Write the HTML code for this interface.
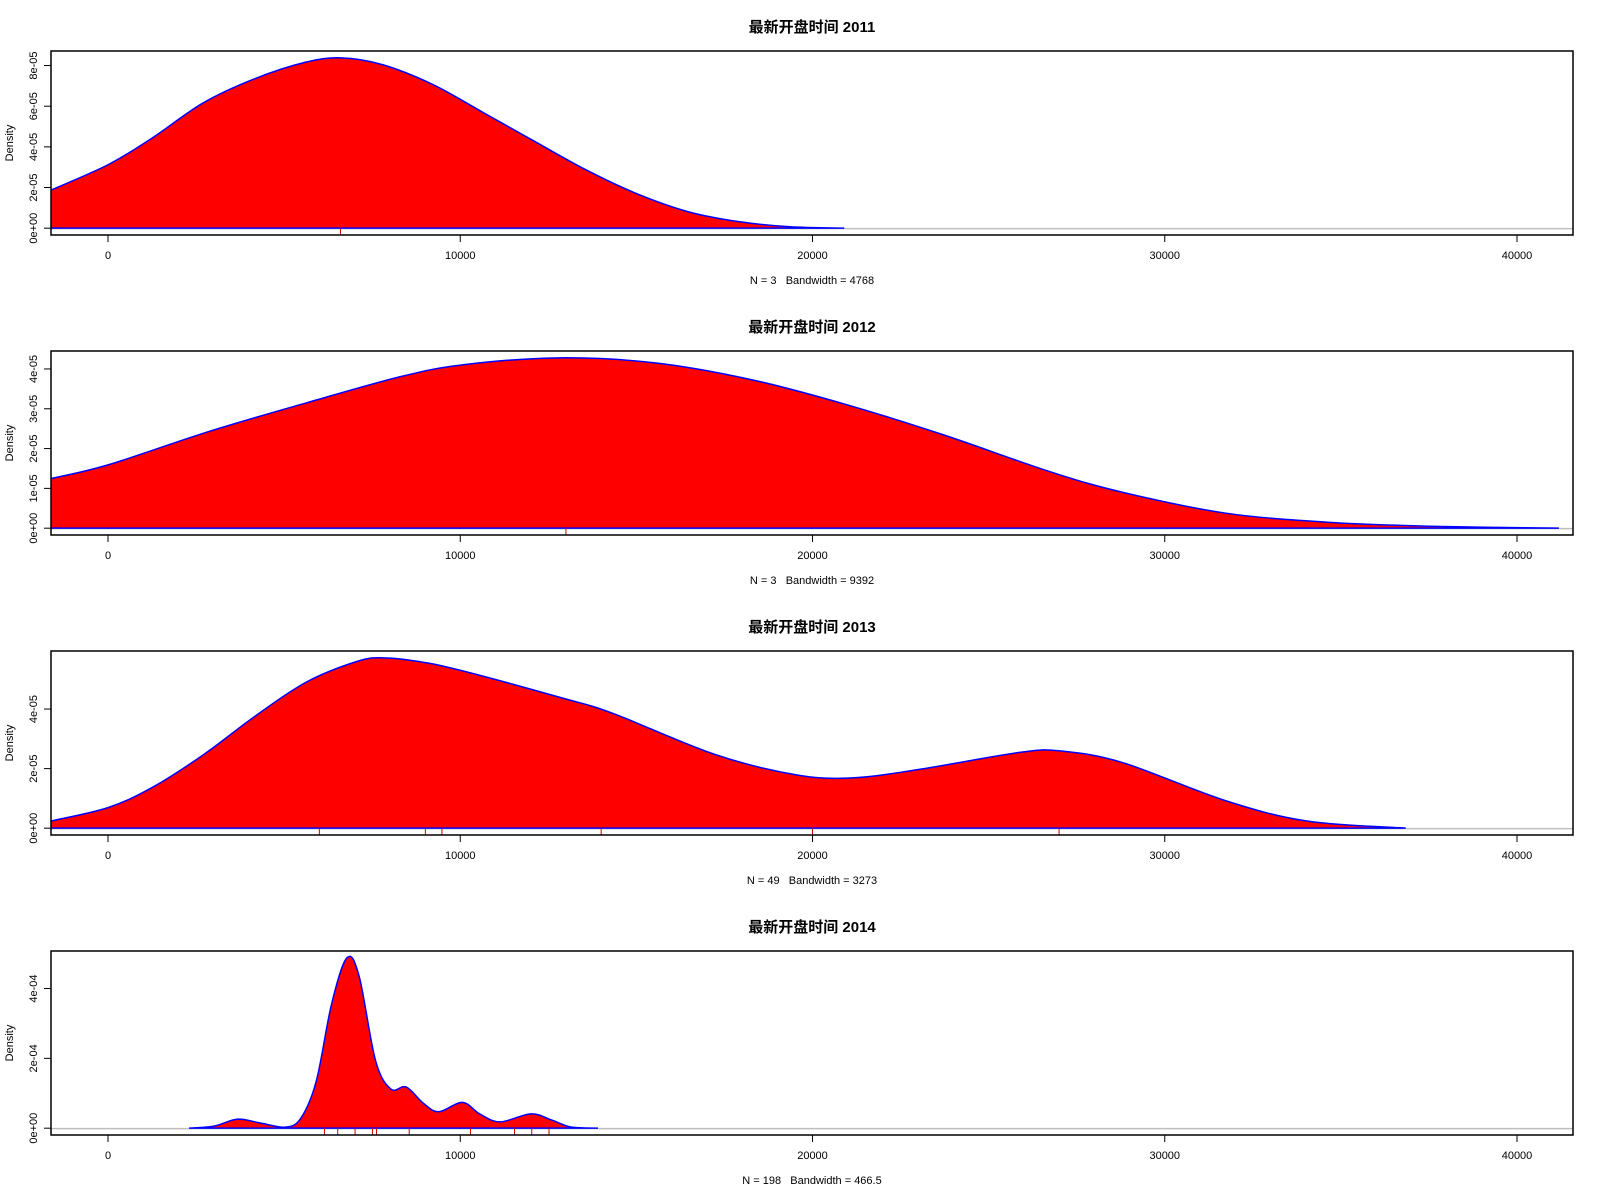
<!DOCTYPE html>
<html><head><meta charset="utf-8">
<style>
html,body{margin:0;padding:0;background:#fff;}
svg{display:block;font-family:"Liberation Sans","Noto Sans CJK SC",sans-serif;}
.pre{white-space:pre;}
</style></head>
<body>
<svg id="chart" width="1600" height="1200" viewBox="0 0 1600 1200"></svg>
<script>
const years = ["2011","2012","2013","2014"];
const subtitles = ["N = 3   Bandwidth = 4768","N = 3   Bandwidth = 9392","N = 49   Bandwidth = 3273","N = 198   Bandwidth = 466.5"];
const xTicks = [0,10000,20000,30000,40000];
const yTicks2011 = [0,2e-5,4e-5,6e-5,8e-5];
const yTicks2012 = [0,1e-5,2e-5,3e-5,4e-5];
const yTicks2013 = [0,2e-5,4e-5];
const yTicks2014 = [0,2e-4,4e-4];
const yLabels2011 = ["0e+00","2e-05","4e-05","6e-05","8e-05"];
const yLabels2012 = ["0e+00","1e-05","2e-05","3e-05","4e-05"];
const yLabels2013 = ["0e+00","2e-05","4e-05"];
const yLabels2014 = ["0e+00","2e-04","4e-04"];
const x2011 = [-1650,0,1250,2700,4150,5600,6615,7780,9230,10680,12120,13570,15020,16470,17910,19360,20900];
const d2011 = [1.85e-5,3.12e-5,4.43e-5,6.16e-5,7.34e-5,8.16e-5,8.38e-5,8.05e-5,7.06e-5,5.66e-5,4.26e-5,2.87e-5,1.69e-5,8.1e-6,3.2e-6,7e-7,0];
const x2012 = [-1650,0,2870,5600,8320,10120,12830,15560,18270,20980,23700,26740,28810,31710,34610,37510,41190];
const d2012 = [1.24e-5,1.59e-5,2.43e-5,3.14e-5,3.81e-5,4.11e-5,4.28e-5,4.15e-5,3.73e-5,3.10e-5,2.35e-5,1.42e-5,9e-6,3.8e-6,1.5e-6,5e-7,0];
const x2013 = [-1620,0,1275,2725,4174,5623,7072,7800,8800,9971,12870,14320,17220,19540,21130,23010,25910,27070,28810,31710,34030,36840];
const d2013 = [2.4e-6,6.9e-6,1.38e-5,2.48e-5,3.76e-5,4.9e-5,5.6e-5,5.72e-5,5.6e-5,5.31e-5,4.38e-5,3.86e-5,2.48e-5,1.79e-5,1.69e-5,1.97e-5,2.55e-5,2.59e-5,2.2e-5,9.3e-6,2.4e-6,0];
const x2014 = [2300,3014,3681,4319,5043,5478,5913,6348,6783,7130,7594,8029,8464,8957,9391,10058,10551,11130,12000,12580,13160,13910];
const d2014 = [0,6e-6,2.6e-5,1.5e-5,3e-6,2.9e-5,1.35e-4,3.56e-4,4.88e-4,4.35e-4,1.94e-4,1.12e-4,1.18e-4,7.1e-5,4.7e-5,7.4e-5,4.1e-5,1.8e-5,4.1e-5,2.4e-5,3e-6,0];
const rug2011 = [6600];
const rug2012 = [13000];
const rug2013 = [6000,9010,9480,14000,20000,27000];
const rug2014 = [6145,6522,7014,7507,7623,8551,10290,11540,12030,12520];

const panels = [
 {xs:x2011,ds:d2011,yt:yTicks2011,yl:yLabels2011,rug:rug2011},
 {xs:x2012,ds:d2012,yt:yTicks2012,yl:yLabels2012,rug:rug2012},
 {xs:x2013,ds:d2013,yt:yTicks2013,yl:yLabels2013,rug:rug2013},
 {xs:x2014,ds:d2014,yt:yTicks2014,yl:yLabels2014,rug:rug2014}
];
const NS="http://www.w3.org/2000/svg";
const svg=document.getElementById('chart');
const L=51,R=1573,T=51,B=235;
function xs(v){return 108+(v)*(1517-108)/40000;}
function mk(tag,attrs,parent){const e=document.createElementNS(NS,tag);for(const k in attrs)e.setAttribute(k,attrs[k]);(parent||svg).appendChild(e);return e;}
panels.forEach((p,i)=>{
  const off=i*300;
  const g=mk('g',{});
  
  
  const ymax=Math.max(...p.ds);
  const y0=B+off-(B-T)*0.04/1.08, yTop=T+off+(B-T)*0.04/1.08;
  const ys=v=>y0-(v/ymax)*(y0-yTop);
  const cp=mk('clipPath',{id:'c'+i},g);
  mk('rect',{x:L,y:T+off,width:R-L,height:B-T},cp);
  const pg=mk('g',{'clip-path':'url(#c'+i+')'},g);
  mk('line',{x1:L,x2:R,y1:y0+0.5,y2:y0+0.5,stroke:'#bebebe','stroke-width':1.5},pg);
  const pts=p.xs.map((x,j)=>[xs(x),ys(p.ds[j])]);
  let d='M'+pts[0][0]+','+y0+' L'+pts[0][0]+','+pts[0][1];
  for(let j=0;j<pts.length-1;j++){
    const p0=pts[Math.max(0,j-1)],p1=pts[j],p2=pts[j+1],p3=pts[Math.min(pts.length-1,j+2)];
    let c1y=p1[1]+(p2[1]-p0[1])/6, c2y=p2[1]-(p3[1]-p1[1])/6;
    c1y=Math.min(c1y,y0);c2y=Math.min(c2y,y0);
    d+=` C${p1[0]+(p2[0]-p0[0])/6},${c1y} ${p2[0]-(p3[0]-p1[0])/6},${c2y} ${p2[0]},${p2[1]}`;
  }
  d+=' L'+pts[pts.length-1][0]+','+y0+' Z';
  const area=mk('path',{d:d,fill:'#ff0000',stroke:'#0000ff','stroke-width':1.5},pg);
  
  
  p.rug.forEach(v=>{
    const r=mk('line',{x1:xs(v),x2:xs(v),y1:y0,y2:B+off,stroke:'#cc0000','stroke-width':1},pg);
    
    
  });
  const box=mk('rect',{x:L,y:T+off,width:R-L,height:B-T,fill:'none',stroke:'#000','stroke-width':1.5},g);
  
  
  xTicks.forEach(v=>{
    mk('line',{x1:xs(v),x2:xs(v),y1:B+off,y2:B+off+7,stroke:'#000'},g);
    const t=mk('text',{x:xs(v),y:B+off+24,'text-anchor':'middle','font-size':11},g);
    t.textContent=v;
    
    
  });
  p.yt.forEach((v,j)=>{
    const y=ys(v);
    mk('line',{x1:L,x2:L-7,y1:y,y2:y,stroke:'#000'},g);
    const t=mk('text',{x:37,y:y,'text-anchor':'middle','font-size':11,transform:`rotate(-90 37 ${y})`},g);
    t.textContent=p.yl[j];
    
    
  });
  const yl=mk('text',{x:13,y:143+off,'text-anchor':'middle','font-size':11,transform:`rotate(-90 13 ${143+off})`},g);
  yl.textContent='Density';
  
  
  const tt=mk('text',{x:812,y:32+off,'text-anchor':'middle','font-size':15,'font-weight':'bold'},g);
  tt.textContent='最新开盘时间 '+years[i];
  
  
  const st=mk('text',{x:812,y:284+off,'text-anchor':'middle','font-size':11,'class':'pre'},g);
  st.textContent=subtitles[i];
  
  
});
</script>
</body></html>
